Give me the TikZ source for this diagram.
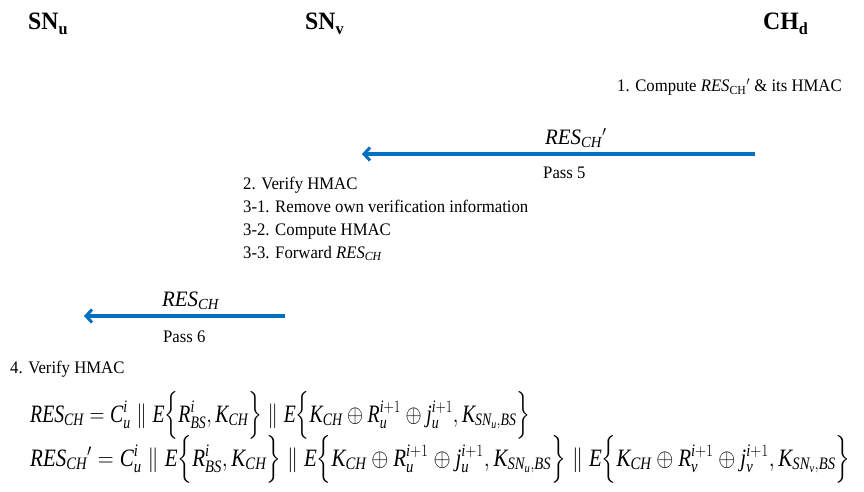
\documentclass[tikz,border=0pt]{standalone}
\usepackage{amsmath}
\usepackage{graphicx}
\usepackage{fontspec}
\setmainfont[FakeStretch=0.95]{Liberation Serif}
\usetikzlibrary{arrows.meta}
\definecolor{msgblue}{HTML}{0070C0}
% italic identifiers inside formulas
\newcommand{\vi}[1]{\textit{#1}}
% tall braces centred on the math axis
\newcommand{\lbr}{\mathopen{\vcenter{\hbox{\scalebox{1}[1.07]{$\Bigl\{$}}}}}
\newcommand{\rbr}{\mathclose{\vcenter{\hbox{\scalebox{1}[1.07]{$\Bigr\}$}}}}}
% bold lowered subscript for the party headings
\newcommand{\hsub}[1]{\raisebox{-0.35ex}{\fontsize{17}{17}\selectfont\bfseries #1}}
\begin{document}
\begin{tikzpicture}[x=1pt,y=1pt,
  hdr/.style={font=\fontsize{25}{27}\selectfont\bfseries, inner sep=0pt, anchor=base west},
  note/.style={font=\fontsize{17.6}{23}\selectfont, inner sep=0pt, anchor=base west},
  msglabel/.style={font=\fontsize{22}{26}\selectfont, inner sep=0pt, anchor=base west},
  eqn/.style={font=\fontsize{25}{28}\selectfont, inner sep=0pt, anchor=base west},
  msg/.style={draw=msgblue, line width=4pt,
    -{Straight Barb[length=6pt,width=13pt,line width=3pt]}}
]
\useasboundingbox (0,0) rectangle (864,-492);

% parties
\node[hdr] (snu) at (28,-30) {SN\hsub{u}};
\node[hdr] (snv) at (305,-30) {SN\hsub{v}};
\node[hdr] (chd) at (763,-30) {CH\hsub{d}};

% step at the cluster head
\node[note] (s1) at (617,-92)
  {1. Compute \textit{RES}\textsubscript{CH}\textit{$'$} \& its HMAC};

% pass 5
\coordinate (p5from) at (755,-154);
\coordinate (p5to) at (362,-154);
\draw[msg] (p5from) -- (p5to);
\node[msglabel] (p5msg) at (545,-144) {$\vi{RES}_{\vi{CH}}{}'$};
\node[note] (p5) at (543,-178) {Pass 5};

% steps at SN_v
\node[note] (s2)  at (243,-189) {2. Verify HMAC};
\node[note] (s31) at (243,-212) {3-1. Remove own verification information};
\node[note] (s32) at (243,-235) {3-2. Compute HMAC};
\node[note] (s33) at (243,-258) {3-3. Forward $\vi{RES}_{\vi{CH}}$};

% pass 6
\coordinate (p6from) at (285,-316);
\coordinate (p6to) at (84,-316);
\draw[msg] (p6from) -- (p6to);
\node[msglabel] (p6msg) at (162,-306) {$\vi{RES}_{\vi{CH}}$};
\node[note] (p6) at (163,-342) {Pass 6};

% step at SN_u
\node[note] (s4) at (10,-373) {4. Verify HMAC};

% formulas
\node[eqn] (eq1) at (30,-422)
  {\resizebox{500pt}{\height}{$\vi{RES}_{\vi{CH}} = \vi{C}_{\vi{u}}^{\vi{i}} \parallel \vi{E}\lbr\vi{R}^{\vi{i}}_{\vi{BS}}, \vi{K}_{\vi{CH}}\rbr \parallel \vi{E}\lbr\vi{K}_{\vi{CH}} \oplus \vi{R}_{\vi{u}}^{\vi{i}+1} \oplus \vi{j}_{\vi{u}}^{\vi{i}+1}, \vi{K}_{\vi{SN}_{\vi{u}},\vi{BS}}\rbr$}};
\node[eqn] (eq2) at (30,-466)
  {\resizebox{820pt}{\height}{$\vi{RES}_{\vi{CH}}{}' = \vi{C}_{\vi{u}}^{\vi{i}} \parallel \vi{E}\lbr\vi{R}^{\vi{i}}_{\vi{BS}}, \vi{K}_{\vi{CH}}\rbr \parallel \vi{E}\lbr\vi{K}_{\vi{CH}} \oplus \vi{R}_{\vi{u}}^{\vi{i}+1} \oplus \vi{j}_{\vi{u}}^{\vi{i}+1}, \vi{K}_{\vi{SN}_{\vi{u}},\vi{BS}}\rbr \parallel \vi{E}\lbr\vi{K}_{\vi{CH}} \oplus \vi{R}_{\vi{v}}^{\vi{i}+1} \oplus \vi{j}_{\vi{v}}^{\vi{i}+1}, \vi{K}_{\vi{SN}_{\vi{v}},\vi{BS}}\rbr$}};
\end{tikzpicture}
\end{document}
